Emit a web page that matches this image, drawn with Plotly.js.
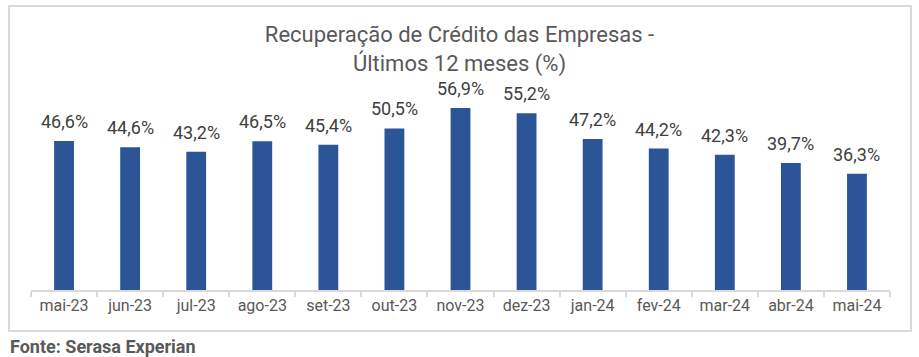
<!DOCTYPE html>
<html>
<head>
<meta charset="utf-8">
<script src="https://cdn.plot.ly/plotly-3.0.1.min.js"></script>
<style>
  html, body { margin: 0; padding: 0; background: #ffffff; }
  #chart { width: 919px; height: 357px; }
</style>
</head>
<body>
<div id="chart"></div>
<script>
const months = ["mai-23","jun-23","jul-23","ago-23","set-23","out-23","nov-23","dez-23","jan-24","fev-24","mar-24","abr-24","mai-24"];
const values = [46.6, 44.6, 43.2, 46.5, 45.4, 50.5, 56.9, 55.2, 47.2, 44.2, 42.3, 39.7, 36.3];
const labels = values.map(v => v.toFixed(1).replace('.', ',') + '%');

const W = 919, H = 357;
const mL = 31, mR = 29, mT = 98, mB = 67;
const pw = W - mL - mR, ph = H - mT - mB;
const px = x => (x - mL) / pw;
const py = y => (H - mB - y) / ph;

const font = "Roboto, 'Open Sans', Arial, sans-serif";

const annotations = months.map((m, i) => ({
  x: m, y: values[i], xref: 'x', yref: 'y',
  text: labels[i], showarrow: false,
  yanchor: 'bottom', yshift: 7,
  font: {family: font, size: 18, color: '#404040'}
}));
annotations.push({
  xref: 'paper', yref: 'paper', x: px(8), y: py(346),
  xanchor: 'left', yanchor: 'middle', showarrow: false,
  text: '<b>Fonte: Serasa Experian</b>',
  font: {family: font, size: 18, color: '#595959'}
});

const layout = {
  width: W, height: H,
  margin: {l: mL, r: mR, t: mT, b: mB, pad: 0},
  paper_bgcolor: '#ffffff', plot_bgcolor: '#ffffff',
  showlegend: false,
  title: {
    text: 'Recuperação de Crédito das Empresas -<br>Últimos 12 meses (%)',
    font: {family: font, size: 22, color: '#595959'},
    x: 0.5, xref: 'container', xanchor: 'center',
    y: 1 - 42 / H, yref: 'container', yanchor: 'top'
  },
  xaxis: {
    type: 'category',
    showline: true, linecolor: '#d9d9d9', linewidth: 2,
    ticks: 'outside', tickson: 'boundaries', ticklen: 5, tickcolor: '#d9d9d9', tickwidth: 2,
    tickfont: {family: font, size: 16, color: '#595959'},
    showgrid: false, zeroline: false, fixedrange: true
  },
  yaxis: {
    range: [0, 60], visible: false, showgrid: false, zeroline: false, fixedrange: true
  },
  bargap: 0.7,
  annotations: annotations,
  shapes: [{
    type: 'rect', xref: 'paper', yref: 'paper',
    x0: px(9), x1: px(911), y0: py(331), y1: py(6),
    line: {color: '#d9d9d9', width: 2}, fillcolor: 'rgba(0,0,0,0)', layer: 'below'
  }]
};

Plotly.newPlot('chart', [{
  type: 'bar', x: months, y: values,
  marker: {color: '#2B5597'},
  hoverinfo: 'x+y'
}], layout, {displayModeBar: false, staticPlot: true});
</script>
</body>
</html>
